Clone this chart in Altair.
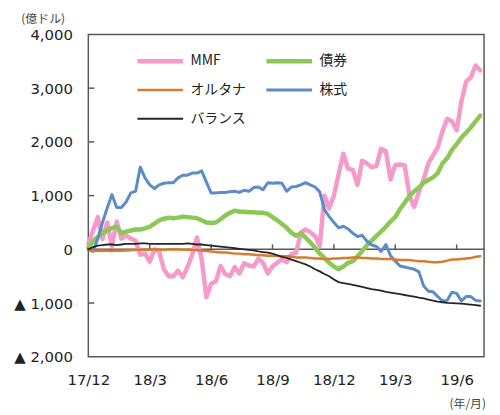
import altair as alt
import pandas as pd

# legend (column-major) order and styles
series_names = ["MMF", "オルタナ", "バランス", "債券", "株式"]
series_colors = ["#F59AC9", "#D97B2C", "#262626", "#8CC856", "#5B8BC8"]
series_widths = [4.5, 2.5, 1.8, 4.5, 3]
draw_order = ["MMF", "債券", "株式", "オルタナ", "バランス"]

mmf = [100, 350, 600, 190, 500, 60, 520, 200, 260, 200, 160, -100, -80, -230, 0, -40, -370, -500, -500, -400, -520,
       -330, -100, 220, -185, -890, -640, -600, -310, -460, -500, -330, -450, -260, -300, -320, -180, -250, -450, -320, -250, -185,
       -240, -90, -60, 310, 370, 320, 250, 60, 1000, 760, 1000, 1400, 1780, 1500, 1480, 1200, 1650, 1600, 1530, 1550, 1870, 1830,
       1300, 1570, 1580, 1560, 1000, 790, 1070, 1300, 1600, 1750, 1900, 2200, 2430, 2380, 2220, 2750, 3120, 3200, 3420, 3330]

bonds = [30, 150, 230, 300, 350, 400, 420, 300, 330, 350, 370, 370, 390, 420, 480, 540, 570, 590, 580, 590, 610,
         600, 590, 580, 540, 500, 490, 500, 560, 630, 680, 720, 700, 700, 690, 690, 680, 680, 660, 600, 540, 470,
         400, 310, 250, 300, 220, 130, 30, -80, -160, -250, -320, -370, -320, -250, -220, -130, -30, 80, 160, 250, 330, 420,
         520, 600, 750, 870, 990, 1080, 1150, 1240, 1290, 1340, 1420, 1600, 1700, 1850, 1960, 2080, 2170, 2270, 2380, 2490]

stocks = [0, -40, 200, 500, 770, 1020, 780, 780, 880, 1050, 1080, 1530, 1330, 1200, 1130, 1200, 1230, 1240, 1240, 1330, 1380,
          1380, 1420, 1420, 1460, 1250, 1050, 1050, 1060, 1060, 1070, 1080, 1060, 1100, 1080, 1150, 1160, 1110, 1240, 1230, 1240, 1230,
          1080, 1160, 1170, 1200, 1240, 1200, 1160, 1070, 740, 610, 500, 400, 430, 380, 300, 240, 260, 150, 80, 55, -40, 90,
          -120, -220, -310, -330, -350, -370, -420, -680, -780, -790, -880, -960, -950, -800, -820, -960, -880, -880, -950, -960]

alts = [0, -30, -25, -20, -25, -30, -20, -25, -20, -15, -10,
        -10, -5, -10, 0, -5, -10, -5, 0, -5, -10, -5, -10, -15, -20, -30,
        -40, -50, -60, -60, -70, -80, -80, -90, -90, -100, -110, -110, -120, -120, -125,
        -130, -130, -140, -150, -150, -150, -160, -170, -170, -180, -180, -170, -170, -160, -160,
        -150, -150, -160, -160, -170, -170, -180, -180, -180, -190, -200, -200, -200, -210, -220,
        -220, -230, -240, -240, -230, -210, -190, -190, -180, -170, -160, -140, -130]

balance = [0, 40, 70, 80, 90, 90, 80, 90, 100, 100, 100, 110, 110, 100, 100, 100, 100, 100, 100, 100, 100,
           110, 100, 90, 90, 80, 70, 60, 50, 40, 30, 20, 10, 0, -10, -20, -40, -50, -60, -80, -110, -140,
           -160, -190, -220, -250, -280, -320, -370, -410, -460, -500, -560, -610, -630, -645, -660, -680, -700, -720, -740, -755,
           -770, -790, -805, -820, -835, -850, -865, -880, -900, -915, -935, -955, -975, -985, -995, -1000, -1005, -1010, -1020,
           -1030, -1040, -1050]

tick_weeks = [0, 13, 26, 39, 52, 65, 78]
tick_labels = ["17/12", "18/3", "18/6", "18/9", "18/12", "19/3", "19/6"]
y_ticks = [-1000, 1000, 2000, 3000]

values = {"MMF": mmf, "債券": bonds, "オルタナ": alts, "株式": stocks, "バランス": balance}
rows = []
for name in draw_order:
    for i, v in enumerate(values[name]):
        rows.append({"week": i, "value": v, "series": name})
df = pd.DataFrame(rows)

label_expr = " : ".join(
    [f"datum.value == {w} ? '{l}'" for w, l in zip(tick_weeks, tick_labels)]
) + " : ''"

xscale = alt.Scale(domain=[0, 83.8], nice=False)
yscale = alt.Scale(domain=[-2000, 4000], nice=False)

lines = alt.Chart(df).mark_line(strokeJoin="round", strokeCap="round").encode(
    x=alt.X("week:Q", scale=xscale,
            axis=alt.Axis(values=tick_weeks, labelExpr=label_expr, domain=False, ticks=False, grid=False,
                          labelFlush=False, labelOverlap=False,
                          labelFont="DejaVu Sans", labelFontSize=15, labelColor="#222", labelPadding=16,
                          title="(年/月)", titleFont="Noto Sans CJK JP", titleFontSize=12, titleFontWeight="normal",
                          titleColor="#444", titleX=382, titleY=47, titleAlign="center", titleBaseline="middle")),
    y=alt.Y("value:Q", scale=yscale,
            axis=alt.Axis(values=[-2000, -1000, 0, 1000, 2000, 3000, 4000],
                          labelExpr="datum.value < 0 ? '▲ ' + format(-datum.value, ',') : format(datum.value, ',')",
                          domain=False, ticks=False, grid=False, labelFlush=False,
                          labelFont="DejaVu Sans", labelFontSize=15, labelColor="#222", labelPadding=16,
                          title="(億ドル)", titleFont="Noto Sans CJK JP", titleFontSize=12, titleFontWeight="normal",
                          titleColor="#444", titleAngle=0, titleX=-46, titleY=-16, titleAlign="center",
                          titleBaseline="middle")),
    color=alt.Color("series:N", scale=alt.Scale(domain=series_names, range=series_colors),
                    legend=alt.Legend(title=None, orient="none", legendX=47, legendY=19, columns=2,
                                      symbolType="stroke", symbolSize=2116, symbolStrokeWidth=3,
                                      clipHeight=16,
                                      labelFont="Noto Sans CJK JP", labelFontSize=14, labelColor="#222",
                                      labelOffset=5, columnPadding=18, rowPadding=13, padding=0)),
    strokeWidth=alt.StrokeWidth("series:N",
                                scale=alt.Scale(type="ordinal", domain=series_names, range=series_widths),
                                legend=None),
)

zero_df = pd.DataFrame({"v": [0]})
zero_line = alt.Chart(zero_df).mark_rule(color="#595959", strokeWidth=1.5).encode(y=alt.Y("v:Q", scale=yscale))

xt_df = pd.DataFrame({"week": tick_weeks[1:], "v": [0] * (len(tick_weeks) - 1)})
x_ticks = alt.Chart(xt_df).mark_rule(color="#595959", strokeWidth=1.5, y2Offset=-5).encode(
    x=alt.X("week:Q", scale=xscale), y=alt.Y("v:Q", scale=yscale), y2="v:Q")

yt_df = pd.DataFrame({"v": y_ticks})
y_tick_marks = alt.Chart(yt_df).mark_rule(color="#595959", strokeWidth=1.5).encode(
    x=alt.value(0), x2=alt.value(6), y=alt.Y("v:Q", scale=yscale))

chart = alt.layer(zero_line, x_ticks, y_tick_marks, lines).properties(
    width=399, height=325,
    autosize=alt.AutoSizeParams(type="none"),
    padding={"left": 81, "top": 25, "right": 8, "bottom": 52},
    background="white",
).configure_view(stroke="#595959", strokeWidth=1.5)

chart.save("out.html", embed_options={"renderer": "svg", "actions": False})
